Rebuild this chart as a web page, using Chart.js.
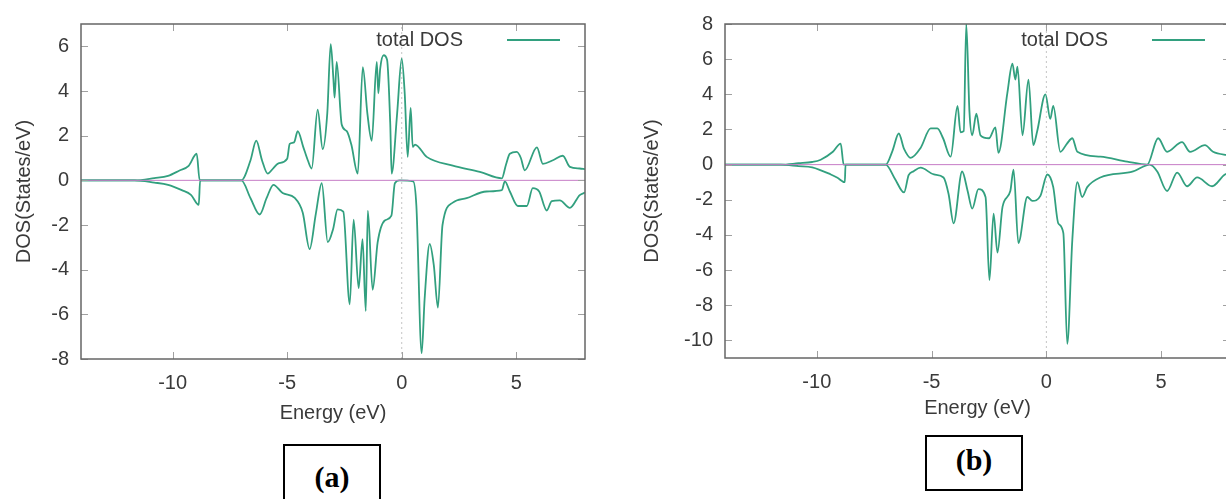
<!DOCTYPE html>
<html>
<head>
<meta charset="utf-8">
<script src="https://cdn.jsdelivr.net/npm/chart.js@4.4.1/dist/chart.umd.min.js"></script>
<style>
    html, body { margin: 0; padding: 0; width: 1226px; height: 499px; overflow: hidden; background: #fff; }
    canvas { position: absolute; top: 0; }
    #chartA { left: 0; }
    #chartB { left: 640px; }
    .tag {
        position: absolute; box-sizing: border-box; border: 2px solid #000;
        font: bold 30px "Liberation Serif", "Times New Roman", serif; text-align: center; color: #000;
    }
    #tagA { left: 283px; top: 444px; width: 98px; height: 70px; line-height: 62px; }
    #tagB { left: 925px; top: 435px; width: 98px; height: 56px; line-height: 46px; }
</style>
</head>
<body>
<canvas id="chartA" width="620" height="430"></canvas>
<canvas id="chartB" width="620" height="430"></canvas>
<div class="tag" id="tagA">(a)</div>
<div class="tag" id="tagB">(b)</div>
<script>
// ---- panel (a) : spin up / spin down total DOS ----
const energyUpA = [-14, -11.66, -10.8, -10.2, -9.7, -9.3, -8.95, -8.82, -7.0, -6.6, -6.35, -6.1, -5.85, -5.6, -5.4, -5.0, -4.89, -4.7, -4.54, -4.3, -4.1, -3.93, -3.67, -3.45, -3.25, -3.1, -2.98, -2.93, -2.84, -2.62, -2.4, -2.2, -1.92, -1.70, -1.5, -1.31, -1.09, -1.02, -0.94, -0.79, -0.64, -0.5, -0.44, -0.2, 0, 0.13, 0.26, 0.39, 0.48, 0.58, 1.09, 2.23, 3.41, 4.37, 4.55, 4.72, 5.02, 5.2, 5.37, 5.9, 6.16, 6.6, 7.03, 7.34, 7.77, 8];
const dosUpA = [0, 0, 0.1, 0.2, 0.44, 0.65, 1.19, 0, 0, 0.9, 1.78, 0.9, 0.3, 0.55, 0.75, 0.97, 1.63, 1.7, 2.2, 1.5, 0.9, 0.53, 3.17, 1.4, 3.0, 6.1, 4.5, 3.7, 5.3, 2.5, 2.2, 1.6, 0.3, 5.07, 3.0, 1.77, 5.3, 3.9, 5.0, 5.6, 5.4, 2.5, 0.3, 3.0, 5.45, 3.9, 1.05, 3.24, 1.5, 1.6, 1.05, 0.66, 0.38, 0.09, 0.7, 1.19, 1.27, 1.0, 0.45, 1.48, 0.74, 0.9, 1.1, 0.6, 0.53, 0.5];
const energyDnA = [-14, -11.66, -10.8, -10.2, -9.6, -9.2, -8.86, -8.8, -7.0, -6.6, -6.2, -5.9, -5.6, -5.2, -4.67, -4.32, -4.02, -3.75, -3.49, -3.23, -3.0, -2.8, -2.55, -2.27, -2.1, -1.88, -1.71, -1.57, -1.48, -1.27, -1.05, -0.74, -0.45, -0.3, -0.09, 0.5, 0.64, 0.87, 1.0, 1.22, 1.4, 1.58, 1.78, 2.23, 2.83, 3.7, 4.37, 4.5, 4.72, 5.07, 5.46, 5.72, 6.0, 6.33, 6.55, 6.9, 7.34, 7.77, 8];
const dosDnA = [0, 0, -0.1, -0.2, -0.44, -0.65, -1.1, 0, 0, -0.8, -1.53, -0.8, -0.2, -0.57, -0.79, -1.45, -3.08, -1.5, -0.13, -2.77, -2.2, -1.3, -1.4, -5.55, -1.76, -4.83, -2.63, -5.85, -1.36, -4.9, -2.77, -1.8, -1.58, -0.13, 0, -0.05, -1.15, -7.74, -5.3, -2.85, -3.8, -5.7, -2.0, -1.0, -0.8, -0.5, -0.44, -0.05, -0.5, -1.15, -1.15, -0.35, -0.5, -1.35, -0.93, -0.9, -1.23, -0.66, -0.55];

// ---- panel (b) ----
const energyUpB = [-14, -11.57, -10.8, -10.2, -9.83, -9.3, -8.96, -8.83, -7.0, -6.7, -6.43, -6.2, -5.91, -5.48, -5.04, -4.75, -4.5, -4.17, -3.87, -3.74, -3.6, -3.49, -3.35, -3.23, -3.05, -2.87, -2.5, -2.22, -2.09, -1.7, -1.48, -1.35, -1.26, -1.04, -0.78, -0.57, -0.4, -0.04, 0.17, 0.3, 0.61, 0.9, 1.13, 1.35, 2.35, 3.52, 4.39, 4.87, 5.26, 5.91, 6.26, 6.91, 7.26, 7.83, 8];
const dosUpB = [0, 0, 0.08, 0.15, 0.28, 0.73, 1.2, 0, 0, 0.8, 1.77, 0.9, 0.39, 0.95, 2.06, 2.06, 1.5, 0.45, 3.34, 1.84, 1.9, 8.0, 3.0, 1.67, 2.9, 1.67, 1.5, 2.12, 0.67, 4.07, 5.74, 4.84, 5.57, 1.67, 4.84, 1.11, 1.9, 4.0, 2.6, 3.34, 0.73, 1.2, 1.5, 0.73, 0.45, 0.17, 0.0, 1.5, 0.73, 1.28, 0.73, 1.11, 0.73, 0.56, 0.55];
const energyDnB = [-14, -11.57, -10.8, -10.2, -9.39, -9.1, -8.78, -8.75, -7.0, -6.6, -6.2, -6.0, -5.78, -5.48, -4.9, -4.48, -4.26, -4.04, -3.67, -3.43, -3.23, -2.96, -2.65, -2.48, -2.3, -2.13, -1.91, -1.57, -1.43, -1.22, -0.83, -0.61, -0.26, 0.04, 0.3, 0.52, 0.74, 0.91, 1.13, 1.35, 1.56, 1.78, 2.35, 3.78, 4.5, 4.83, 5.26, 5.7, 6.13, 6.57, 7.22, 7.78, 8];
const dosDnB = [0, 0, -0.08, -0.15, -0.56, -0.75, -1.0, 0, 0, -0.8, -1.58, -0.6, -0.37, -0.17, -0.56, -0.73, -1.67, -3.34, -0.39, -1.5, -2.5, -1.39, -1.84, -6.57, -2.79, -5.0, -2.4, -1.5, -0.28, -4.46, -1.84, -2.06, -1.78, -0.56, -1.28, -3.34, -3.9, -10.2, -4.3, -1.0, -1.84, -1.28, -0.73, -0.39, 0, -0.39, -1.5, -0.45, -1.23, -0.73, -1.23, -0.56, -0.5];

// axes
const energyRange = [-14, 8];
const xTickValues = [-10, -5, 0, 5];
const yRangeA = [-8, 7];
const yTicksA = [-8, -6, -4, -2, 0, 2, 4, 6];
const yRangeB = [-11, 8];
const yTicksB = [-10, -8, -6, -4, -2, 0, 2, 4, 6, 8];
const zeroLevel = [0, 0];
const fermiEnergy = [0, 0];
const keyLabel = 'total DOS';

const DOS_GREEN = '#32a07f';
const FONT = '"Liberation Sans", Arial, sans-serif';
const TEXT = '#3a3a3a';

const zip = (xs, ys) => xs.map((x, i) => ({ x: x, y: ys[i] }));

// gnuplot look: frame, inward ticks on all sides, key at top right
const gnuplotFrame = {
    id: 'gnuplotFrame',
    afterDraw(chart) {
        const { ctx, chartArea: a, scales } = chart;
        ctx.save();
        ctx.strokeStyle = '#a0a0a0';
        ctx.lineWidth = 1;
        ctx.beginPath();
        scales.x.ticks.forEach(t => {
            const px = Math.round(scales.x.getPixelForValue(t.value)) + 0.5;
            ctx.moveTo(px, a.bottom); ctx.lineTo(px, a.bottom - 7);
            ctx.moveTo(px, a.top); ctx.lineTo(px, a.top + 7);
        });
        scales.y.ticks.forEach(t => {
            const py = Math.round(scales.y.getPixelForValue(t.value)) + 0.5;
            ctx.moveTo(a.left, py); ctx.lineTo(a.left + 7, py);
            ctx.moveTo(a.right, py); ctx.lineTo(a.right - 7, py);
        });
        ctx.stroke();

        ctx.strokeStyle = '#666';
        ctx.lineWidth = 1.5;
        ctx.strokeRect(a.left, a.top, a.right - a.left, a.bottom - a.top);

        // key
        const ky = a.top + 16;
        ctx.font = '20px ' + FONT;
        ctx.fillStyle = TEXT;
        ctx.textAlign = 'right';
        ctx.textBaseline = 'middle';
        ctx.fillText(keyLabel, a.right - 122, ky);
        ctx.strokeStyle = DOS_GREEN;
        ctx.lineWidth = 2;
        ctx.beginPath();
        ctx.moveTo(a.right - 78, ky); ctx.lineTo(a.right - 25, ky);
        ctx.stroke();
        ctx.restore();
    }
};

function makePanel(canvasId, p) {
    const ctx = document.getElementById(canvasId).getContext('2d');
    const curve = {
        showLine: true, borderColor: DOS_GREEN, borderWidth: 1.8, pointRadius: 0,
        cubicInterpolationMode: 'monotone'
    };
    return new Chart(ctx, {
        type: 'scatter',
        data: {
            datasets: [
                {   // zero reference line
                    data: zip(energyRange, zeroLevel),
                    showLine: true, borderColor: '#c67cc6', borderWidth: 1, pointRadius: 0
                },
                Object.assign({ data: zip(p.upE, p.upD) }, curve),
                Object.assign({ data: zip(p.dnE, p.dnD) }, curve),
                {   // Fermi level
                    data: zip(fermiEnergy, p.yRange),
                    showLine: true, borderColor: '#c4c4c4', borderWidth: 1, borderDash: [2, 3], pointRadius: 0
                }
            ]
        },
        options: {
            responsive: false,
            animation: false,
            devicePixelRatio: 1,
            layout: { padding: { top: 17, right: p.padRight, left: 0, bottom: 0 } },
            plugins: { legend: { display: false }, tooltip: { enabled: false } },
            scales: {
                x: {
                    type: 'linear', min: energyRange[0], max: energyRange[1],
                    afterBuildTicks: s => { s.ticks = xTickValues.map(v => ({ value: v })); },
                    afterFit: s => { s.height = p.xAxisHeight; },
                    grid: { display: false, drawTicks: false },
                    border: { display: false },
                    ticks: { padding: 12, color: TEXT, font: { family: FONT, size: 20 } },
                    title: { display: true, text: 'Energy (eV)', color: TEXT, padding: { top: 0, bottom: p.xTitlePad }, font: { family: FONT, size: 20 } }
                },
                y: {
                    type: 'linear', min: p.yRange[0], max: p.yRange[1],
                    afterBuildTicks: s => { s.ticks = p.yTicks.map(v => ({ value: v })); },
                    afterFit: s => { s.width = p.yAxisWidth; },
                    grid: { display: false, drawTicks: false },
                    border: { display: false },
                    ticks: { padding: 12, color: TEXT, font: { family: FONT, size: 20 } },
                    title: { display: true, text: 'DOS(States/eV)', color: TEXT, padding: { top: p.yTitlePad, bottom: 0 }, font: { family: FONT, size: 20 } }
                }
            }
        },
        plugins: [gnuplotFrame]
    });
}

document.addEventListener('DOMContentLoaded', () => {
    makePanel('chartA', {
        upE: energyUpA, upD: dosUpA, dnE: energyDnA, dnD: dosDnA,
        yRange: yRangeA, yTicks: yTicksA,
        padRight: 35, yAxisWidth: 81, xAxisHeight: 71, yTitlePad: 12, xTitlePad: 5
    });
    makePanel('chartB', {
        upE: energyUpB, upD: dosUpB, dnE: energyDnB, dnD: dosDnB,
        yRange: yRangeB, yTicks: yTicksB,
        padRight: 30, yAxisWidth: 85, xAxisHeight: 72, yTitlePad: 0, xTitlePad: 10
    });
});
</script>
</body>
</html>
